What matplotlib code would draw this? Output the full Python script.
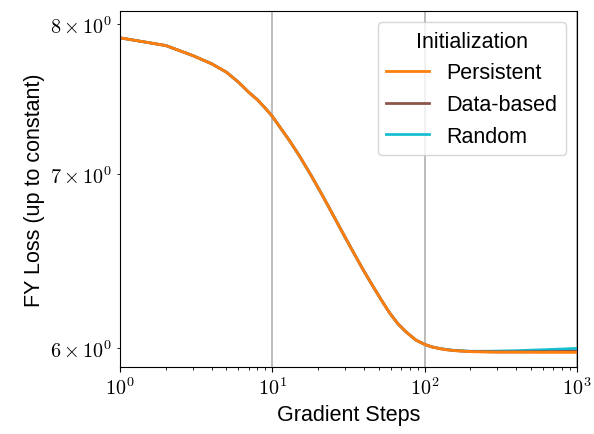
import numpy as np
import matplotlib
matplotlib.use("Agg")
import matplotlib.pyplot as plt
from matplotlib.ticker import FuncFormatter, FixedLocator

plt.rcParams['font.family'] = ['Liberation Sans', 'DejaVu Sans']
plt.rcParams['mathtext.fontset'] = 'cm'
plt.rcParams['font.size'] = 15.5

# values (gradient step -> FY loss)
steps = [1, 2, 3, 4, 5, 6, 7, 8, 9, 10, 13, 15, 18, 21, 24, 27, 30, 33, 36, 40,
         46, 52, 59, 67, 76, 88, 100, 112, 126, 140, 160, 200, 250, 300, 400,
         600, 1000]
persistent = [7.901, 7.847, 7.778, 7.721, 7.664, 7.596, 7.529, 7.478, 7.423, 7.370,
              7.211, 7.119, 6.993, 6.882, 6.784, 6.698, 6.622, 6.555, 6.495, 6.424,
              6.336, 6.262, 6.190, 6.130, 6.085, 6.042, 6.020, 6.006, 5.997, 5.991,
              5.986, 5.981, 5.979, 5.978, 5.978, 5.977, 5.977]
data_based = [7.901, 7.847, 7.778, 7.721, 7.664, 7.596, 7.529, 7.478, 7.423, 7.370,
              7.211, 7.119, 6.993, 6.882, 6.784, 6.698, 6.622, 6.555, 6.495, 6.424,
              6.336, 6.262, 6.190, 6.130, 6.085, 6.042, 6.020, 6.006, 5.997, 5.991,
              5.986, 5.982, 5.981, 5.980, 5.980, 5.981, 5.983]
random_init = [7.901, 7.847, 7.778, 7.721, 7.664, 7.596, 7.529, 7.478, 7.423, 7.370,
               7.211, 7.119, 6.993, 6.882, 6.784, 6.698, 6.622, 6.555, 6.495, 6.424,
               6.336, 6.262, 6.190, 6.130, 6.085, 6.042, 6.020, 6.006, 5.998, 5.992,
               5.987, 5.983, 5.983, 5.984, 5.986, 5.991, 5.998]
y_ticks = [6, 7, 8]

fig = plt.figure(figsize=(5.94, 4.35), dpi=100)
ax = fig.add_axes([0.202, 0.154, 0.769, 0.818])

l3, = ax.plot(steps, random_init, color='tab:cyan', lw=2, label='Random')
l2, = ax.plot(steps, data_based, color='tab:brown', lw=2, label='Data-based')
l1, = ax.plot(steps, persistent, color='tab:orange', lw=2, label='Persistent')

ax.set_xscale('log')
ax.set_yscale('log')
ax.set_xlim(1, 1000)
ax.set_ylim(5.9, 8.09)

ax.xaxis.set_major_formatter(FuncFormatter(lambda v, p: r'$10^{%d}$' % round(np.log10(v))))
ax.yaxis.set_major_locator(FixedLocator([]))
ax.yaxis.set_minor_locator(FixedLocator(y_ticks))
ax.yaxis.set_minor_formatter(FuncFormatter(lambda v, p: r'$%d\times10^{0}$' % round(v)))
ax.tick_params(which='both', labelsize=14.5)

ax.grid(axis='x', which='major', color='#b0b0b0', lw=1.2)
ax.set_xlabel('Gradient Steps')
ax.set_ylabel('FY Loss (up to constant)')

ax.legend(handles=[l1, l2, l3], title='Initialization', loc='upper right',
          fontsize=15.5, title_fontsize=15.5)

fig.savefig('out.png', dpi=100)
